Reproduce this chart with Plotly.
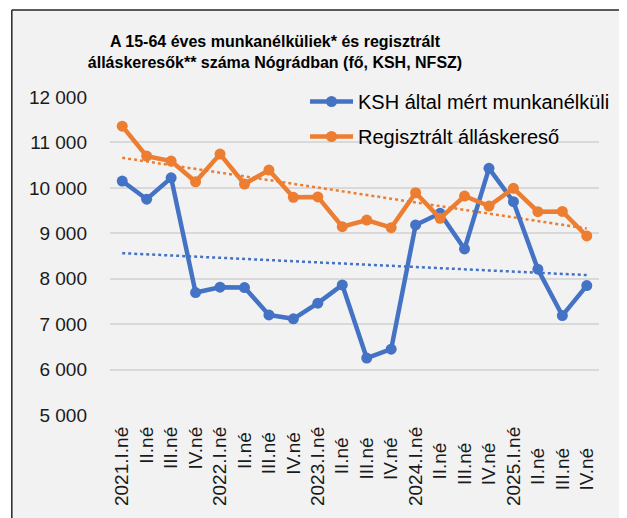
import numpy as np
import plotly.graph_objects as go

categories = ["2021.I.né", "II.né", "III.né", "IV.né",
              "2022.I.né", "II.né ", "III.né ", "IV.né ",
              "2023.I.né", "II.né  ", "III.né  ", "IV.né  ",
              "2024.I.né", "II.né   ", "III.né   ", "IV.né   ",
              "2025.I.né", "II.né    ", "III.né    ", "IV.né    "]
ksh_values = [10150, 9750, 10220, 7695, 7813, 7805, 7204, 7117, 7462, 7864,
              6253, 6450, 9183, 9440, 8655, 10429, 9695, 8209, 7189, 7848]
nfsz_values = [11358, 10699, 10589, 10134, 10743, 10084, 10391, 9791, 9800, 9145,
               9292, 9123, 9892, 9330, 9820, 9600, 9989, 9475, 9480, 8941]
ksh_name = "KSH által mért munkanélküli"
nfsz_name = "Regisztrált álláskereső"
title_text = "<b>A 15-64 éves munkanélküliek* és regisztrált<br>álláskeresők** száma Nógrádban (fő, KSH, NFSZ)</b>"

BLUE = "#4472C4"
ORANGE = "#ED7D31"
FONT = "Liberation Sans, Arial, sans-serif"

OFF = 8  # page body margin
W, H = 627 - OFF, 518 - OFF
ML, MR, MT, MB = 110 - OFF, 13, 97 - OFF, 103

idx = np.arange(len(categories))
def trend(vals):
    k, b = np.polyfit(idx, np.array(vals, dtype=float), 1)
    return k * idx + b

fig = go.Figure()
fig.add_trace(go.Scatter(x=categories, y=trend(ksh_values), mode="lines",
                         line=dict(color=BLUE, width=2.5, dash="dot"),
                         showlegend=False, hoverinfo="skip"))
fig.add_trace(go.Scatter(x=categories, y=trend(nfsz_values), mode="lines",
                         line=dict(color=ORANGE, width=2.5, dash="dot"),
                         showlegend=False, hoverinfo="skip"))
fig.add_trace(go.Scatter(x=categories, y=ksh_values, mode="lines+markers", name=ksh_name,
                         legendgroup="a",
                         line=dict(color=BLUE, width=4.5),
                         marker=dict(color=BLUE, size=11)))
fig.add_trace(go.Scatter(x=categories, y=nfsz_values, mode="lines+markers", name=nfsz_name,
                         legendgroup="b",
                         line=dict(color=ORANGE, width=4.5),
                         marker=dict(color=ORANGE, size=11)))

pw = W - ML - MR
ph = H - MT - MB
# helpers take screen pixel coordinates
def px2x(p):
    return (p - OFF - ML) / pw
def px2y(p):
    return (H - MB - (p - OFF)) / ph

shapes = [
    dict(type="rect", xref="paper", yref="paper", x0=px2x(-5), x1=px2x(OFF + 0.5), y0=px2y(600), y1=px2y(-5),
         fillcolor="white", line=dict(width=0), layer="below"),
    dict(type="rect", xref="paper", yref="paper", x0=px2x(-5), x1=px2x(700), y0=px2y(10), y1=px2y(-5),
         fillcolor="white", line=dict(width=0), layer="below"),
    dict(type="line", xref="paper", yref="paper", x0=px2x(OFF + 0.8), x1=px2x(OFF + 0.8), y0=px2y(600), y1=px2y(10),
         line=dict(color="#262626", width=1.5)),
    dict(type="line", xref="paper", yref="paper", x0=px2x(OFF + 0.8), x1=px2x(700), y0=px2y(10), y1=px2y(10),
         line=dict(color="#262626", width=1.5)),
]

fig.update_layout(
    width=W, height=H,
    margin=dict(l=ML, r=MR, t=MT, b=MB, pad=0),
    paper_bgcolor="#F2F2F2", plot_bgcolor="#F2F2F2",
    separators=", ",
    font=dict(family=FONT, color="#1a1a1a"),
    title=dict(text=title_text, x=(275 - OFF) / W, xref="container", xanchor="center",
               y=1 - (47 - OFF) / H, yref="container", yanchor="middle",
               font=dict(size=16, family=FONT, color="#000")),
    showlegend=True,
    legend=dict(x=px2x(311), y=px2y(82), xanchor="left", yanchor="top",
                bgcolor="rgba(0,0,0,0)", font=dict(size=20, family=FONT, color="#000"),
                itemwidth=43, tracegroupgap=6),
    shapes=shapes,
    xaxis=dict(type="category", tickangle=-90, tickfont=dict(size=19, family=FONT, color="#1a1a1a"),
               showgrid=False, showline=False, zeroline=False, ticks="", ticklabelstandoff=7,
               range=[-0.5, len(categories) - 0.5], fixedrange=True),
    yaxis=dict(range=[5000, 12000], dtick=1000, tick0=5000, tickformat=",d", separatethousands=True,
               tickfont=dict(size=19, family=FONT, color="#1a1a1a"),
               showgrid=True, gridcolor="#D9D9D9", gridwidth=1.5, zeroline=False, showline=False,
               ticks="", ticklabelstandoff=22),
)

fig.write_html("out.html")
